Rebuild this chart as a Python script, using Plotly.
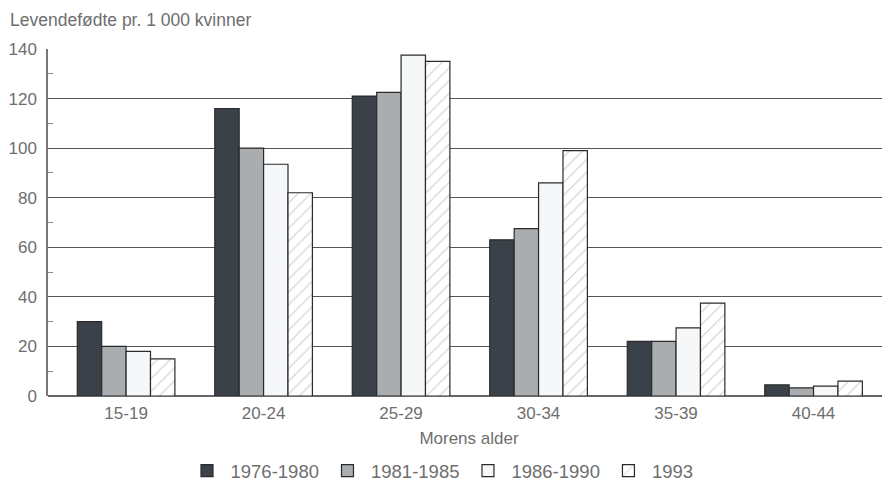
import plotly.graph_objects as go

categories = ["15-19", "20-24", "25-29", "30-34", "35-39", "40-44"]
series_names = ["1976-1980", "1981-1985", "1986-1990", "1993"]
v_1976_1980 = [30, 116, 121, 63, 22, 4.5]
v_1981_1985 = [20, 100, 122.5, 67.5, 22, 3.3]
v_1986_1990 = [18, 93.5, 137.5, 86, 27.5, 4]
v_1993 = [15, 82, 135, 99, 37.5, 6]
y_ticks = [0, 20, 40, 60, 80, 100, 120, 140]

values = [v_1976_1980, v_1981_1985, v_1986_1990, v_1993]
fills = ["#3b4148", "#a9adb0", "#f5f7f9", "#ffffff"]
patterns = ["", "", "", "/"]

FONT = "Liberation Sans, Arial, sans-serif"
TXT = "#6e6e6e"

fig = go.Figure()
for name, vals, fc, pat in zip(series_names, values, fills, patterns):
    fig.add_trace(go.Bar(
        name=name, x=categories, y=vals,
        marker=dict(color=fc, line=dict(color="#2a2a2a", width=1.2),
                    pattern=dict(shape=pat, fgcolor="#9a9a9a", size=9, solidity=0.12)),
    ))

# page body has an 8px offset; compensate so the plot lands where the reference has it
L, T, B = 40, 41, 92
W, H = 882, 480
PH = H - T - B
PW = W - L
fig.update_layout(
    width=W, height=H,
    margin=dict(l=L, r=0, t=T, b=B, autoexpand=False),
    paper_bgcolor="white", plot_bgcolor="white",
    barmode="group", bargap=0.29, bargroupgap=0,
    font=dict(family=FONT, size=16, color=TXT),
    showlegend=True,
    legend=dict(orientation="h", x=(441 - 8 - L) / PW, xanchor="center", y=-(471 - 396) / PH,
                yanchor="middle", font=dict(size=18.5, color=TXT), traceorder="normal",
                itemwidth=37),
    xaxis=dict(range=[-0.568, 5.556], showgrid=False, showline=False, ticks="",
               tickfont=dict(size=17), ticklabelstandoff=5,
               title=dict(text="Morens alder", font=dict(size=17), standoff=10)),
    yaxis=dict(range=[0, 140], tickvals=y_ticks, showgrid=True, gridcolor="#555555", gridwidth=1.2,
               showline=True, linecolor="#777777", linewidth=1.5, ticks="", zeroline=True,
               zerolinecolor="#666666", zerolinewidth=1.5,
               minor=dict(tickvals=[10, 30, 50, 70, 90, 110, 130], ticks="inside", ticklen=5,
                          tickcolor="#888888", showgrid=False),
               tickfont=dict(size=17), ticklabelstandoff=6),
    annotations=[dict(text="Levendefødte pr. 1 000 kvinner", x=(0 - L) / PW, xref="paper",
                      y=1.0 + (T - 12) / PH, yref="paper",
                      yanchor="middle", xanchor="left", showarrow=False,
                      font=dict(size=17.5, color=TXT))],
)
fig.write_html("out.html")
